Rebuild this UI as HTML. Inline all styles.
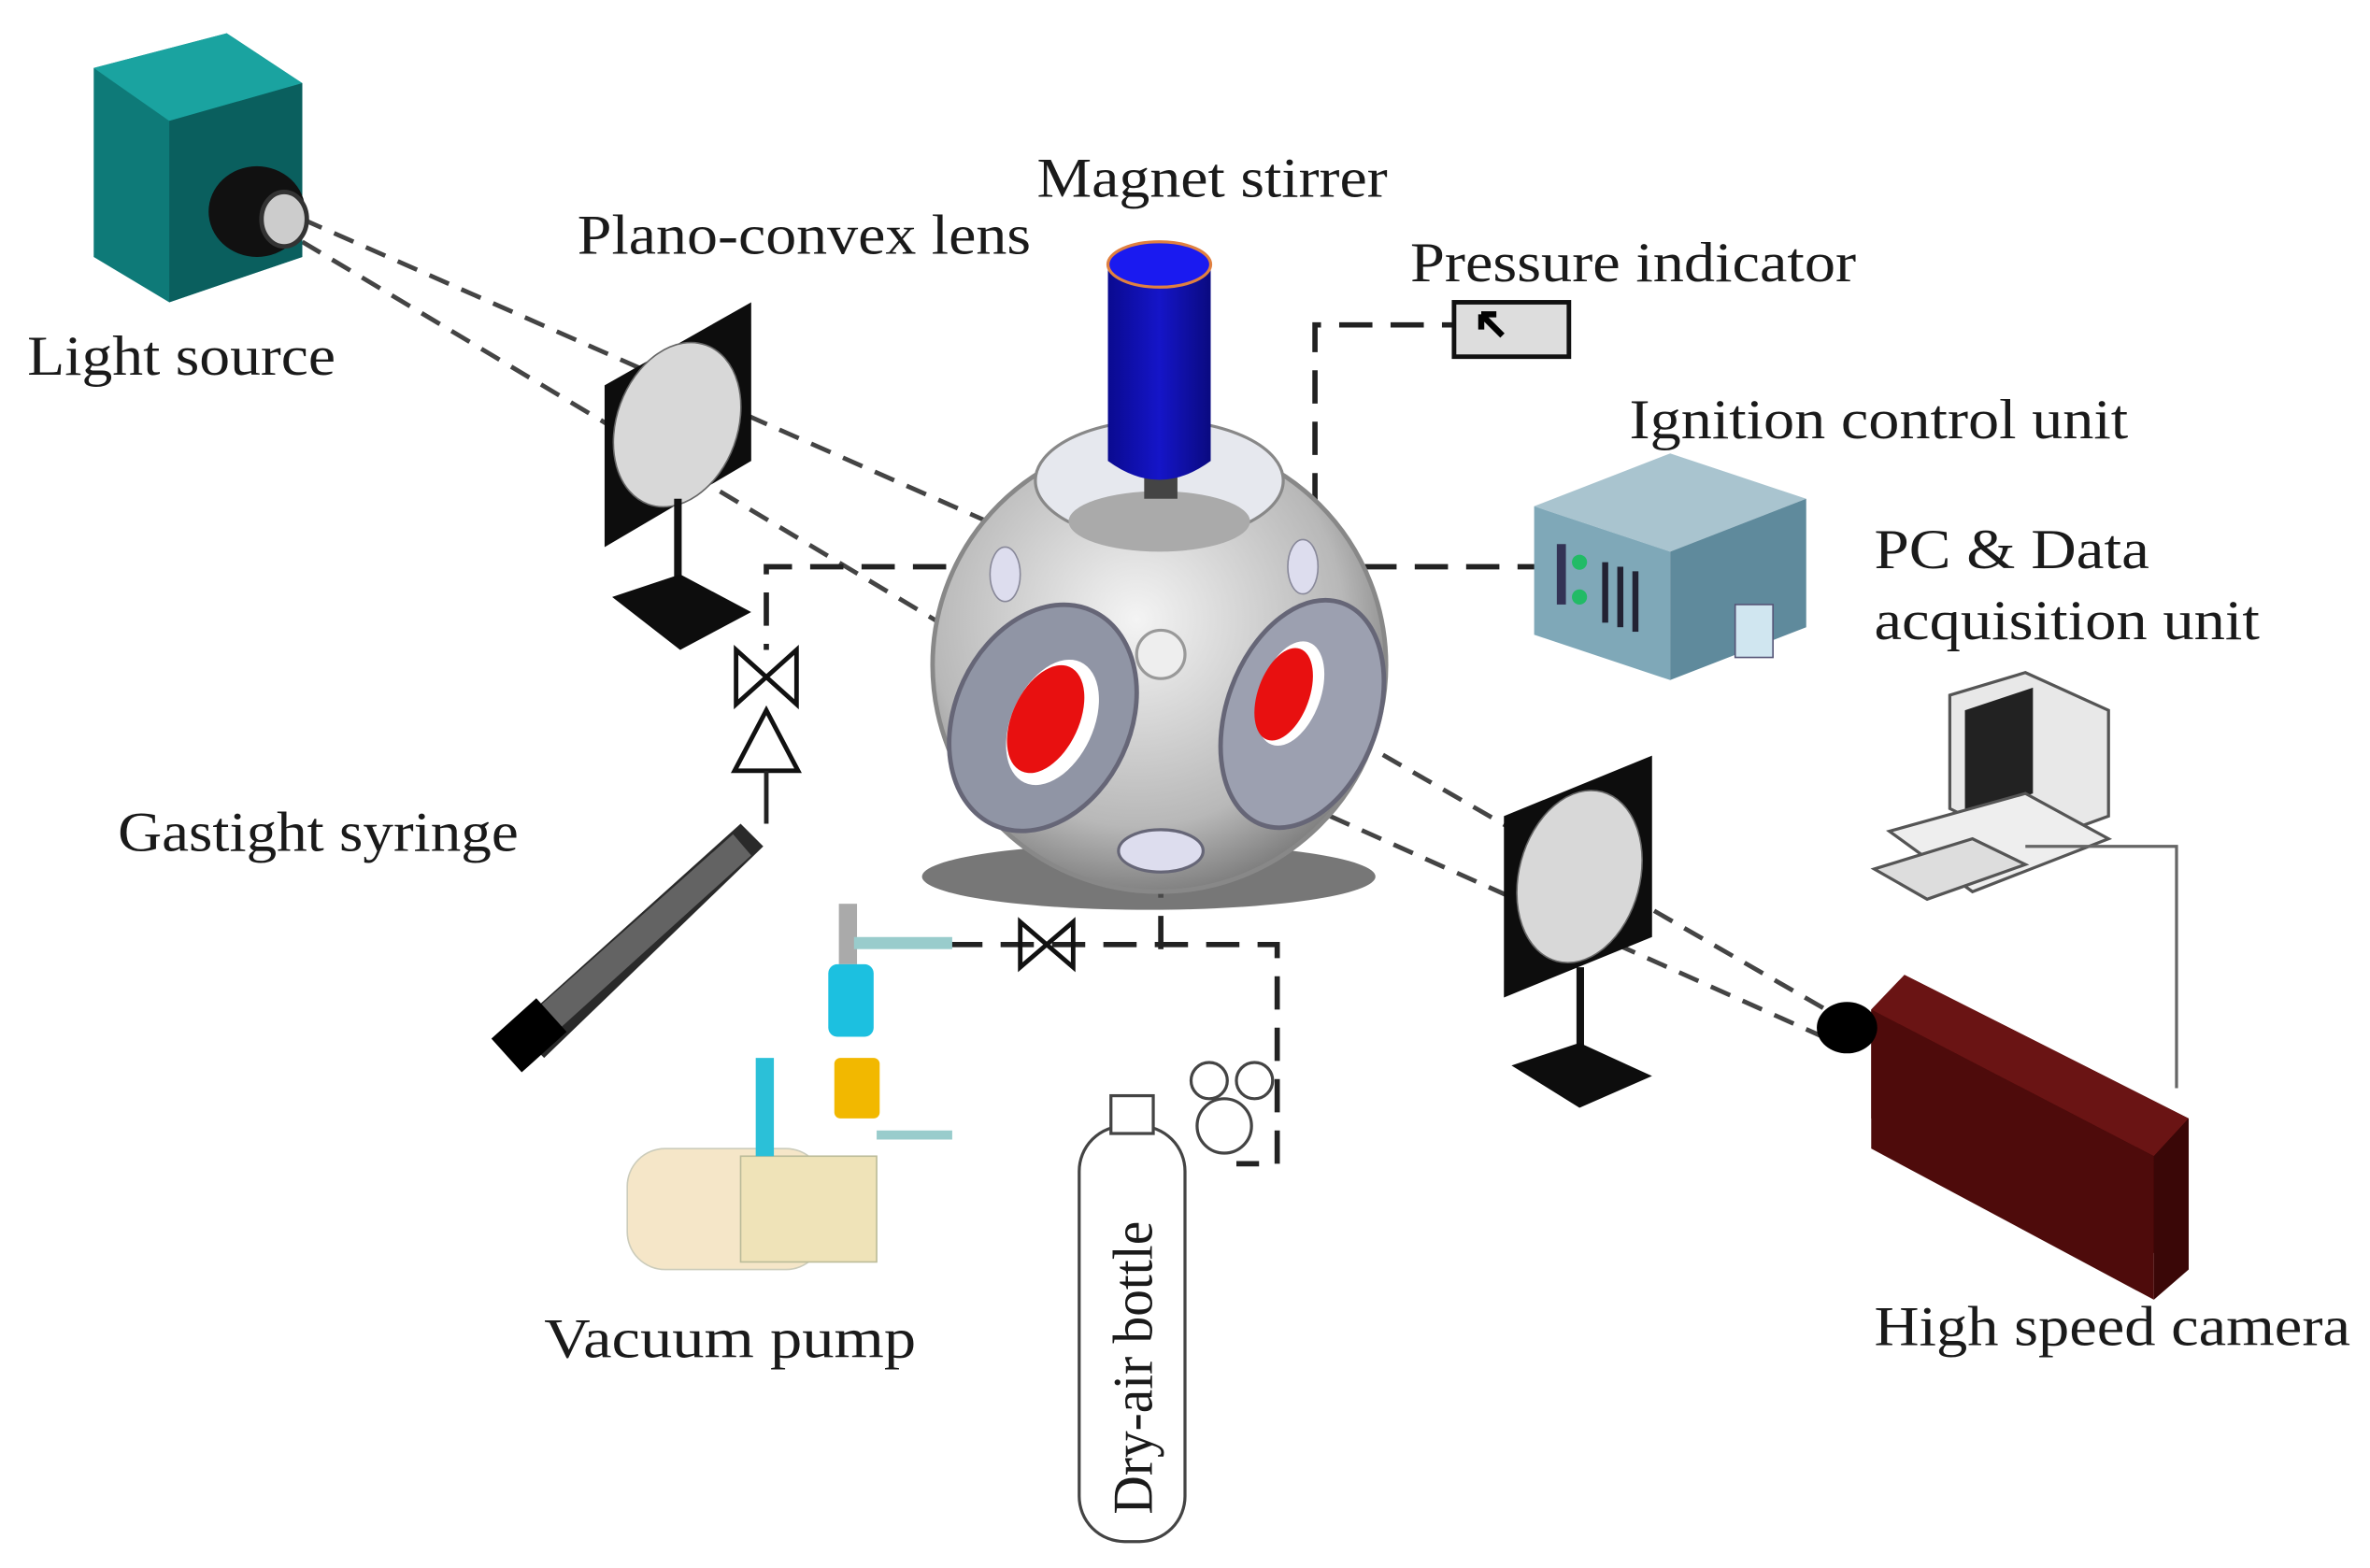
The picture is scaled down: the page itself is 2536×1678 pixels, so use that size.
<!DOCTYPE html>
<html><head><meta charset="utf-8"><style>
html,body{margin:0;padding:0;background:#fff;}
svg{display:block;}
text{font-family:"Liberation Serif",serif;fill:#1a1a1a;}
</style></head><body>
<svg width="2536" height="1678" viewBox="0 0 1568 1037.5" preserveAspectRatio="none" xmlns="http://www.w3.org/2000/svg">
<defs>
<radialGradient id="sph" cx="0.45" cy="0.4" r="0.65"><stop offset="0" stop-color="#f4f4f4"/><stop offset="0.7" stop-color="#b8b8b8"/><stop offset="1" stop-color="#707070"/></radialGradient>
<linearGradient id="blue" x1="0" x2="1"><stop offset="0" stop-color="#0a0a90"/><stop offset="0.5" stop-color="#1515c8"/><stop offset="1" stop-color="#0a0a80"/></linearGradient>
<linearGradient id="red" x1="0" x2="1" y1="0" y2="1"><stop offset="0" stop-color="#5a0d0d"/><stop offset="1" stop-color="#2a0404"/></linearGradient>
</defs>
<g fill="none" stroke="#444" stroke-width="3" stroke-dasharray="14,9">
<line x1="200" y1="145" x2="660" y2="348"/>
<line x1="200" y1="160" x2="635" y2="420"/>
<line x1="895" y1="488" x2="1215" y2="672"/>
<line x1="880" y1="540" x2="1215" y2="690"/>
</g>
<g fill="none" stroke="#222" stroke-width="3.5" stroke-dasharray="22,12">
<polyline points="870,335 870,215 962,215"/>
<polyline points="868,375 1020,375"/>
<polyline points="660,375 507,375 507,430"/>
<polyline points="768,470 768,630"/>
<polyline points="628,625 845,625 845,770 818,770"/>
</g>
<!-- light source -->
<polygon points="62,45 150,22 200,55 200,170 112,200 62,170" fill="#0e7a78"/>
<polygon points="62,45 150,22 200,55 112,80" fill="#1aa3a0"/>
<polygon points="112,80 200,55 200,170 112,200" fill="#0a5f5e"/>
<ellipse cx="170" cy="140" rx="32" ry="30" fill="#111"/>
<ellipse cx="188" cy="145" rx="15" ry="18" fill="#ccc" stroke="#333" stroke-width="3"/>
<!-- left lens -->
<polygon points="400,255 497,200 497,305 400,362" fill="#0d0d0d"/>
<ellipse cx="448" cy="281" rx="40" ry="56" transform="rotate(20 448 281)" fill="#d8d8d8" stroke="#666"/>
<rect x="446" y="330" width="5" height="70" fill="#111"/>
<polygon points="405,395 450,380 497,405 450,430" fill="#0d0d0d"/>
<!-- right lens -->
<polygon points="995,540 1093,500 1093,620 995,660" fill="#0d0d0d"/>
<ellipse cx="1045" cy="580" rx="40" ry="58" transform="rotate(15 1045 580)" fill="#d8d8d8" stroke="#666"/>
<rect x="1043" y="640" width="5" height="65" fill="#111"/>
<polygon points="1000,705 1045,690 1093,712 1045,733" fill="#0d0d0d"/>
<!-- valve left, syringe -->
<g stroke="#111" stroke-width="3" fill="#fff">
<polygon points="487,430 527,466 527,430 487,466" fill="none"/>
<polygon points="507,470 486,510 528,510"/>
</g>
<line x1="507" y1="510" x2="507" y2="545" stroke="#222" stroke-width="3"/>
<polygon points="340,680 490,545 505,560 360,700" fill="#2a2a2a"/>
<polygon points="350,672 485,552 497,566 362,688" fill="#8a8a8a" opacity="0.6"/>
<rect x="330" y="670" width="40" height="30" transform="rotate(-42 350 685)" fill="#000"/>
<!-- chamber -->
<ellipse cx="760" cy="580" rx="150" ry="22" fill="#555" opacity="0.8"/>
<circle cx="767" cy="440" r="150" fill="url(#sph)" stroke="#888" stroke-width="3"/>
<ellipse cx="767" cy="318" rx="82" ry="40" fill="#e6e8ee" stroke="#888" stroke-width="2"/>
<ellipse cx="767" cy="345" rx="60" ry="20" fill="#aaa"/>
<g transform="rotate(25 690 475)">
<ellipse cx="690" cy="475" rx="58" ry="78" fill="#9095a5" stroke="#667" stroke-width="3"/>
<ellipse cx="697" cy="475" rx="27" ry="44" fill="#fff"/>
<ellipse cx="692" cy="475" rx="22" ry="38" fill="#e81010"/>
</g>
<g transform="rotate(20 855 470)">
<ellipse cx="862" cy="470" rx="50" ry="78" fill="#9ca0b0" stroke="#667" stroke-width="3"/>
<ellipse cx="850" cy="460" rx="20" ry="36" fill="#fff"/>
<ellipse cx="846" cy="462" rx="17" ry="32" fill="#e81010"/>
</g>
<circle cx="768" cy="433" r="16" fill="#eee" stroke="#999" stroke-width="2"/>
<ellipse cx="768" cy="563" rx="28" ry="14" fill="#dde" stroke="#667" stroke-width="2"/>
<ellipse cx="665" cy="380" rx="10" ry="18" fill="#dde" stroke="#889"/>
<ellipse cx="862" cy="375" rx="10" ry="18" fill="#dde" stroke="#889"/>
<!-- stirrer -->
<rect x="757" y="300" width="22" height="30" fill="#444"/>
<path d="M733,175 L801,175 L801,305 Q767,330 733,305 Z" fill="url(#blue)"/>
<ellipse cx="767" cy="175" rx="34" ry="15" fill="#1a1af0" stroke="#e08040" stroke-width="2"/>
<!-- pressure indicator -->
<rect x="962" y="200" width="76" height="36" fill="#ddd" stroke="#111" stroke-width="3"/>
<path d="M980,208 l14,14 M980,208 l0,10 M980,208 l10,0" stroke="#000" stroke-width="4"/>
<!-- ignition unit -->
<polygon points="1015,335 1105,300 1195,330 1105,365" fill="#a9c4cf"/>
<polygon points="1015,335 1105,365 1105,450 1015,420" fill="#7fa8b8"/>
<polygon points="1105,365 1195,330 1195,415 1105,450" fill="#5f8a9c"/>
<rect x="1030" y="360" width="6" height="40" fill="#335"/><rect x="1060" y="372" width="4" height="40" fill="#223"/><rect x="1070" y="375" width="4" height="40" fill="#223"/><rect x="1080" y="378" width="4" height="40" fill="#223"/>
<circle cx="1045" cy="372" r="5" fill="#2b6"/><circle cx="1045" cy="395" r="5" fill="#2b6"/>
<rect x="1148" y="400" width="25" height="35" fill="#d0e6f0" stroke="#557"/>
<!-- PC -->
<polygon points="1290,460 1340,445 1395,470 1395,540 1340,560 1290,535" fill="#e8e8e8" stroke="#555" stroke-width="2"/>
<polygon points="1300,470 1345,455 1345,525 1300,540" fill="#222"/>
<polygon points="1250,550 1340,525 1395,555 1305,590" fill="#eee" stroke="#555" stroke-width="2"/>
<polygon points="1240,575 1305,555 1340,572 1275,595" fill="#ddd" stroke="#555" stroke-width="2"/>
<polyline points="1340,560 1440,560 1440,720" fill="none" stroke="#666" stroke-width="2"/>
<!-- camera -->
<polygon points="1238,668 1260,645 1448,740 1448,840 1238,740" fill="url(#red)"/>
<polygon points="1238,668 1260,645 1448,740 1425,765" fill="#6a1414"/>
<polygon points="1425,765 1448,740 1448,840 1425,860" fill="#3a0707"/>
<polygon points="1238,668 1425,765 1425,860 1238,760" fill="#4e0b0b"/>
<ellipse cx="1222" cy="680" rx="20" ry="17" fill="#000"/>
<!-- vacuum pump -->
<rect x="415" y="760" width="130" height="80" rx="25" fill="#f5e6c8" stroke="#ccb" />
<rect x="490" y="765" width="90" height="70" fill="#efe3b8" stroke="#bb9"/>
<rect x="500" y="700" width="12" height="65" fill="#2bc0d8"/>
<rect x="555" y="598" width="12" height="40" fill="#aaa"/>
<rect x="565" y="620" width="65" height="8" fill="#9cc"/>
<rect x="548" y="638" width="30" height="48" rx="6" fill="#1cc0e0"/>
<rect x="552" y="700" width="30" height="40" rx="4" fill="#f2b800"/>
<rect x="580" y="748" width="50" height="6" fill="#9cc"/>
<!-- bottle -->
<rect x="714" y="745" width="70" height="275" rx="30" fill="#fff" stroke="#444" stroke-width="2"/>
<rect x="735" y="725" width="28" height="25" fill="#fff" stroke="#444" stroke-width="2"/>
<circle cx="800" cy="715" r="12" fill="none" stroke="#444" stroke-width="2"/>
<circle cx="830" cy="715" r="12" fill="none" stroke="#444" stroke-width="2"/>
<circle cx="810" cy="745" r="18" fill="none" stroke="#444" stroke-width="2"/>
<!-- valve bottom -->
<polygon points="675,610 710,640 710,610 675,640" fill="none" stroke="#111" stroke-width="3"/>
<!-- labels -->
<g font-size="37" lengthAdjust="spacingAndGlyphs">
<text x="18" y="248" textLength="204" lengthAdjust="spacingAndGlyphs">Light source</text>
<text x="382" y="168" textLength="300" lengthAdjust="spacingAndGlyphs">Plano-convex lens</text>
<text x="686" y="130" textLength="232" lengthAdjust="spacingAndGlyphs">Magnet stirrer</text>
<text x="933" y="186" textLength="295" lengthAdjust="spacingAndGlyphs">Pressure indicator</text>
<text x="1078" y="290" textLength="330" lengthAdjust="spacingAndGlyphs">Ignition control unit</text>
<text x="1240" y="376" textLength="182" lengthAdjust="spacingAndGlyphs">PC &amp; Data</text>
<text x="1240" y="423" textLength="255" lengthAdjust="spacingAndGlyphs">acquisition unit</text>
<text x="78" y="563" textLength="265" lengthAdjust="spacingAndGlyphs">Gastight syringe</text>
<text x="360" y="898" textLength="246" lengthAdjust="spacingAndGlyphs">Vacuum pump</text>
<text x="1240" y="890" textLength="315" lengthAdjust="spacingAndGlyphs">High speed camera</text>
<text transform="translate(762,1002) rotate(-90)" textLength="194" lengthAdjust="spacingAndGlyphs">Dry-air bottle</text>
</g>
</svg>
</body></html>
